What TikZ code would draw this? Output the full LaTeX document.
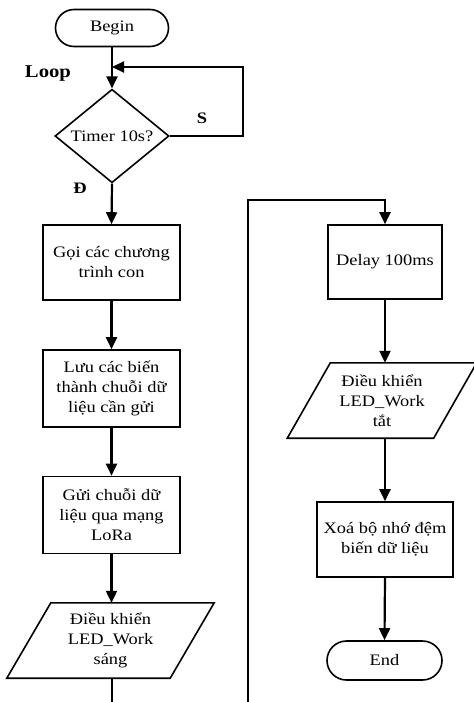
\documentclass[tikz,border=0pt]{standalone}
\usepackage{fontspec}
\setmainfont[FakeStretch=1.15]{Liberation Serif}
\usetikzlibrary{shapes.geometric,shapes.misc,arrows.meta}
\begin{document}
\begin{tikzpicture}[x=1pt,y=-1pt,
  every node/.style={font=\fontsize{16}{20}\selectfont, align=center},
  proc/.style={draw, line width=1.6pt, rectangle, inner sep=0pt},
  term/.style={draw, line width=1.6pt, rounded rectangle, inner sep=0pt},
  iobox/.style={rectangle, inner sep=0pt},
  ioedge/.style={draw, line width=1.6pt, line join=miter},
  decision/.style={draw, line width=1.6pt, diamond, inner sep=0pt},
  lbl/.style={font=\fontsize{16}{18}\selectfont\bfseries},
  arr/.style={line width=2.2pt, -{Triangle[width=11pt,length=12pt]}},
  ln/.style={line width=2.2pt}]
\useasboundingbox (0,0) rectangle (474,702);

% left column
\node[term, minimum width=113pt, minimum height=37pt] (begin) at (112,28) {Begin};
\node[decision, minimum width=114pt, minimum height=76pt] (dec) at (112,136) {Timer 10s?};
\node[proc, minimum width=137pt, minimum height=75pt] (call) at (111.5,262.5) {Gọi các chương\\trình con};
\node[proc, minimum width=137pt, minimum height=77pt] (store) at (111.5,388.5) {Lưu các biến\\thành chuỗi dữ\\liệu cần gửi};
\node[proc, minimum width=137pt, minimum height=77pt] (send) at (111.5,515) {Gửi chuỗi dữ\\liệu qua mạng\\LoRa};
\node[iobox, minimum width=163pt, minimum height=75pt] (ledon) at (110.5,640.5) {Điều khiển\\LED\_Work\\sáng};
\draw[ioedge] ([xshift=22pt]ledon.north west) -- ([xshift=22pt]ledon.north east)
  -- ([xshift=-22pt]ledon.south east) -- ([xshift=-22pt]ledon.south west) -- cycle;

% right column
\node[proc, minimum width=114pt, minimum height=74pt] (delay) at (385,262) {Delay 100ms};
\node[iobox, minimum width=146pt, minimum height=75pt] (ledoff) at (382,400.5) {Điều khiển\\LED\_Work\\tắt};
\draw[ioedge] ([xshift=21.5pt]ledoff.north west) -- ([xshift=21.5pt]ledoff.north east)
  -- ([xshift=-21.5pt]ledoff.south east) -- ([xshift=-21.5pt]ledoff.south west) -- cycle;
\node[proc, minimum width=136pt, minimum height=75pt] (clear) at (385,539.5) {Xoá bộ nhớ đệm\\biến dữ liệu};
\node[term, minimum width=115pt, minimum height=39pt] (end) at (384.5,660.5) {End};

% labels
\node[lbl, font=\fontsize{18}{20}\selectfont\bfseries] (loop) at (48,74) {Loop};
\node[lbl] (no) at (202,118) {S};
\node[lbl] (yes) at (80,188) {Đ};

% helper points
\coordinate (loopin) at (112,67);
\coordinate (loopr) at (243,136);
\coordinate (leftout) at (112,702);
\coordinate (rightin) at (248,702);
\coordinate (rightup) at (248,200);

% connectors
\draw[arr] (begin.south) -- (dec.north);
\draw[arr] (dec.east) -- (loopr) |- (loopin);
\draw[arr] (dec.south) -- (call.north);
\draw[arr] (call.south) -- (store.north);
\draw[arr] (store.south) -- (send.north);
\draw[arr] (send.south) -- (send.south |- ledon.north);
\draw[ln] (begin.south |- ledon.south) -- (leftout);

\draw[arr] (rightin) -- (rightup) -| (delay.north);
\draw[arr] (delay.south) -- (delay.south |- ledoff.north);
\draw[arr] (delay.south |- ledoff.south) -- (clear.north);
\draw[arr] (clear.south) -- (end.north);
\end{tikzpicture}
\end{document}
